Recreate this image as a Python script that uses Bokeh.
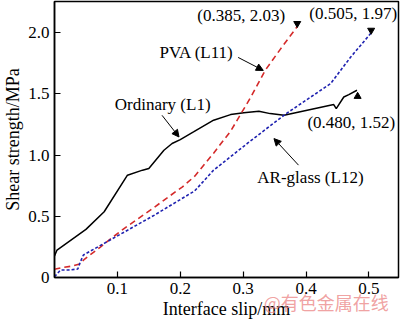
from bokeh.plotting import figure
from bokeh.models import FixedTicker, Arrow, NormalHead, Range1d, LinearAxis
from bokeh.core.properties import value
from bokeh.embed import file_html
from bokeh.resources import INLINE

# Ordinary (L1)
ord_x = [0.000, 0.004, 0.050, 0.079, 0.116, 0.140, 0.150, 0.174, 0.187, 0.200, 0.221, 0.253,
         0.280, 0.301, 0.325, 0.343, 0.365, 0.444, 0.448, 0.460, 0.468, 0.481]
ord_y = [0.175, 0.224, 0.393, 0.537, 0.836, 0.877, 0.891, 1.040, 1.095, 1.127, 1.189, 1.285,
         1.331, 1.347, 1.358, 1.339, 1.325, 1.413, 1.380, 1.475, 1.494, 1.530]
# PVA (L11)
pva_x = [0.000, 0.013, 0.029, 0.040, 0.048, 0.073, 0.107, 0.159, 0.194, 0.203, 0.223, 0.253,
         0.280, 0.312, 0.335, 0.359, 0.386]
pva_y = [0.067, 0.082, 0.094, 0.110, 0.151, 0.249, 0.387, 0.575, 0.706, 0.738, 0.828, 1.016,
         1.195, 1.472, 1.692, 1.864, 2.050]
# AR-glass (L12)
ar_x = [0.000, 0.0095, 0.022, 0.037, 0.041, 0.046, 0.079, 0.159, 0.223, 0.253, 0.307, 0.367,
        0.439, 0.471, 0.503]
ar_y = [0.007, 0.061, 0.061, 0.069, 0.126, 0.184, 0.279, 0.510, 0.708, 0.877, 1.097, 1.334,
        1.584, 1.801, 1.995]

# end-point markers
up_mark_x = [0.482]
up_mark_y = [1.48]
down_mark_x = [0.386, 0.5035]
down_mark_y = [2.075, 2.02]

# annotation texts
ann_text = ["(0.385, 2.03)", "(0.505, 1.97)", "(0.480, 1.52)",
            "PVA (L11)", "Ordinary (L1)", "AR-glass (L12)"]
ann_x = [0.297, 0.475, 0.472, 0.226, 0.172, 0.407]
ann_y = [2.141, 2.157, 1.268, 1.839, 1.415, 0.820]

# arrows (tail x, tail y, head x, head y)
arr_x0 = [0.292, 0.171, 0.388]
arr_y0 = [1.798, 1.325, 0.918]
arr_x1 = [0.332, 0.198, 0.349]
arr_y1 = [1.692, 1.148, 1.135]

x_ticks = [0.1, 0.2, 0.3, 0.4, 0.5]
y_ticks = [0, 0.5, 1.0, 1.5, 2.0]
y_tick_labels = ["0", "0.5", "1.0", "1.5", "2.0"]

watermark = "@有色金属在线"
watermark_x = 0.432

SERIF = "Liberation Serif"

p = figure(width=400, height=321, output_backend="svg", toolbar_location=None,
           x_range=Range1d(0, 0.547), y_range=Range1d(0, 2.255),
           min_border_left=54, min_border_right=2, min_border_top=1, min_border_bottom=43)
p.background_fill_color = "white"
p.border_fill_color = "white"
p.xgrid.visible = False
p.ygrid.visible = False
p.outline_line_color = "black"
p.outline_line_width = 1.5
p.outline_line_alpha = 1.0

for ax in (p.xaxis[0], p.yaxis[0]):
    ax.major_tick_in = 6
    ax.major_tick_out = 0
    ax.minor_tick_in = 0
    ax.minor_tick_out = 0
    ax.axis_line_color = "black"
    ax.axis_line_width = 1.5
    ax.major_tick_line_color = "black"
    ax.major_tick_line_width = 1.2
    ax.major_label_text_font = SERIF
    ax.major_label_text_font_size = "17px"
    ax.major_label_text_color = "black"
    ax.major_label_standoff = 5
    ax.axis_label_text_font = SERIF
    ax.axis_label_text_font_size = "18px"
    ax.axis_label_text_font_style = "normal"
    ax.axis_label_text_color = "black"
    ax.axis_label_standoff = 2

p.xaxis.ticker = FixedTicker(ticks=x_ticks)
p.yaxis.ticker = FixedTicker(ticks=y_ticks)
p.yaxis.major_label_overrides = {t: l for t, l in zip(y_ticks, y_tick_labels)}
p.xaxis.axis_label = "Interface slip/mm"
p.yaxis.axis_label = "Shear strength/MPa"

# watermark carried by an extra, invisible bottom axis (side panels are not clipped)
wm_axis = LinearAxis(ticker=FixedTicker(ticks=[watermark_x]),
                     major_label_overrides={watermark_x: watermark})
wm_axis.axis_line_color = None
wm_axis.major_tick_line_color = None
wm_axis.minor_tick_line_color = None
wm_axis.major_label_text_font = "Noto Sans CJK SC"
wm_axis.major_label_text_font_size = "18px"
wm_axis.major_label_text_color = "#ec8a8a"
wm_axis.major_label_text_alpha = 0.8
wm_axis.major_label_standoff = -39
p.add_layout(wm_axis, "below")

p.line(ord_x, ord_y, line_color="black", line_width=1.5)
p.line(pva_x, pva_y, line_color="#d42a2a", line_width=1.6, line_dash="6 4")
p.line(ar_x, ar_y, line_color="#1f22b0", line_width=1.6, line_dash="3 2")

p.scatter(up_mark_x, up_mark_y, marker="triangle", size=7, color="black")
p.scatter(down_mark_x, down_mark_y, marker="inverted_triangle", size=7, color="black")

p.text(ann_x, ann_y, text=ann_text, text_font=value(SERIF), text_font_size="17px",
       text_align="center", text_baseline="middle", text_color="black")

for x0, y0, x1, y1 in zip(arr_x0, arr_y0, arr_x1, arr_y1):
    p.add_layout(Arrow(x_start=x0, y_start=y0, x_end=x1, y_end=y1,
                       line_color="black", line_width=1,
                       end=NormalHead(size=7, fill_color="black", line_color="black")))

open("out.html", "w").write(file_html(p, INLINE))
